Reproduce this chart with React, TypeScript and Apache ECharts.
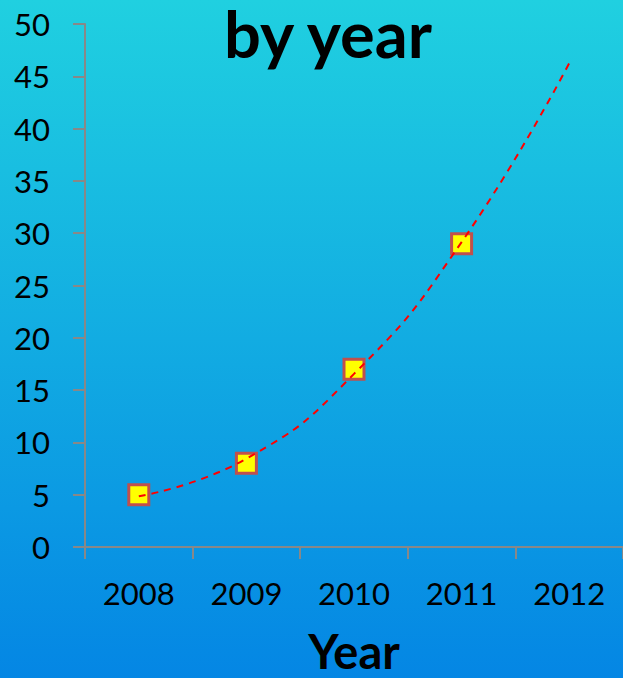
import React, { useEffect, useRef } from "react";
import * as echarts from "echarts";

const years = ["2008", "2009", "2010", "2011", "2012"];
const values = [5, 8, 17, 29, null];
const trend = [4.85, 8.45, 16.55, 29.15, 46.25];
const yTicks = { min: 0, max: 50, interval: 5 };

export default function App() {
  const ref = useRef<HTMLDivElement>(null);
  useEffect(() => {
    document.body.style.margin = "0";
    const chart = echarts.init(ref.current!, null, { renderer: "svg" });
    const font = "Lato, 'Open Sans', sans-serif";
    chart.setOption({
      animation: false,
      backgroundColor: {
        type: "linear",
        x: 0, y: 0, x2: 0, y2: 1,
        colorStops: [
          { offset: 0, color: "#20D0E0" },
          { offset: 0.5, color: "#12ACE2" },
          { offset: 1, color: "#0486E4" },
        ],
      },
      title: {
        text: "by year",
        left: 328,
        top: 3,
        padding: 0,
        textAlign: "center",
        textStyle: { fontFamily: font, fontWeight: "bold", fontSize: 65, lineHeight: 60, color: "#000" },
      },
      grid: { left: 85, right: 0, top: 24, height: 523, containLabel: false, outerBoundsMode: "none" },
      xAxis: {
        type: "category",
        data: years,
        boundaryGap: true,
        name: "Year",
        nameLocation: "middle",
        nameGap: 84,
        nameTextStyle: { fontFamily: font, fontWeight: "bold", fontSize: 47, lineHeight: 40, color: "#000" },
        axisLine: { lineStyle: { color: "#888", width: 2 } },
        axisTick: { show: true, length: 12, lineStyle: { color: "#888", width: 2 } },
        axisLabel: { fontFamily: font, fontSize: 31, color: "#000", margin: 30 },
        splitLine: { show: false },
      },
      yAxis: {
        type: "value",
        min: yTicks.min,
        max: yTicks.max,
        interval: yTicks.interval,
        axisLine: { show: true, lineStyle: { color: "#888", width: 2 } },
        axisTick: { show: true, length: 12, lineStyle: { color: "#888", width: 2 } },
        axisLabel: { fontFamily: font, fontSize: 31, color: "#000", margin: 35 },
        splitLine: { show: false },
      },
      series: [
        {
          type: "line",
          data: trend,
          smooth: true,
          showSymbol: false,
          symbol: "none",
          lineStyle: { color: "#FF0000", width: 2, type: [7, 6] },
          z: 3,
        },
        {
          type: "line",
          data: values,
          symbol: "rect",
          symbolSize: 20,
          lineStyle: { width: 0, opacity: 0 },
          itemStyle: { color: "#FFFF00", borderColor: "#C0504D", borderWidth: 3 },
          z: 2,
        },
      ],
    });
    return () => chart.dispose();
  }, []);
  return <div ref={ref} style={{ position: "absolute", left: 0, top: 0, width: 623, height: 678 }} />;
}
